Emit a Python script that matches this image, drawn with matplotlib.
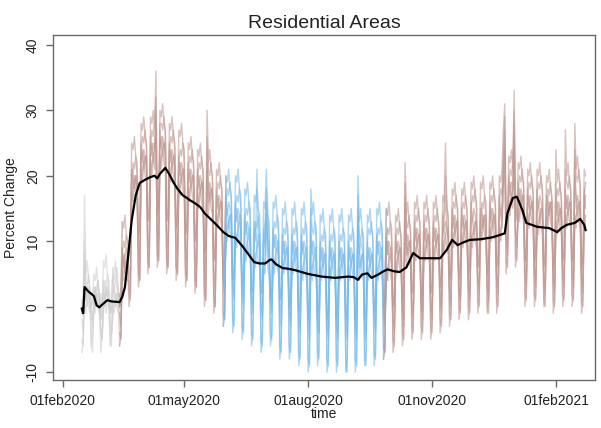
import matplotlib
matplotlib.use("Agg")
import matplotlib.pyplot as plt
import numpy as np
import pandas as pd

plt.rcParams['font.family'] = ['Liberation Sans', 'DejaVu Sans']

# ---------------- data ----------------
start_date = "2020-02-15"   # first Saturday with data
end_date = "2021-02-23"

# weekly values (week starts Saturday): weekend level (Sat/Sun) and weekday level (Mon-Fri)
s1_hi = [5,4,6,5,12, 24,27,28,29,27,26,24,23,22,20,
         19,19,17,16,15,15,14,14,14,14,13,13,13,13,13,13,14,14,
         13,14,15,15,15,16,17,17,18,18,18,19,22,21,20,20,19,19,20,21,20]
s1_lo = [-1,0,-2,-1,0, 8,11,13,14,13,12,11,10,8,7,
         5,4,3,2,2,1,1,0,-1,-2,-1,-2,-2,-2,-2,-2,-1,0,
         0,1,2,1,2,3,4,5,5,6,5,6,12,13,7,7,6,6,7,7,6]
s2_hi = [3,2,3,4,9, 21,25,26,27,25,23,22,21,20,18,
         17,16,14,12,12,12,11,11,11,11,10,10,10,10,10,11,11,11,
         11,12,13,13,13,14,15,15,16,15,16,17,20,19,18,18,17,17,18,19,18]
s2_lo = [-6,-7,-5,-6,-5, 1,4,6,7,6,5,4,3,1,0,
         -2,-3,-4,-5,-6,-5,-7,-7,-8,-9,-8,-9,-9,-10,-9,-9,-8,-7,
         -6,-5,-4,-4,-4,-3,-2,-1,-1,0,-1,0,6,7,1,1,0,0,1,1,0]
s3_hi = [2,1,2,3,7, 19,23,24,25,23,21,20,19,18,16,
         15,14,12,11,10,10,9,9,9,9,8,8,8,8,9,8,9,9,
         9,10,11,11,11,12,13,13,14,13,14,15,18,17,16,16,15,15,16,16,16]
s3_lo = [0,1,-1,0,1, 9,12,14,15,14,13,12,11,9,8,
         6,5,4,3,3,2,2,1,0,0,-1,-1,-1,-1,-1,-1,0,1,
         1,2,3,2,3,4,5,5,6,7,6,7,13,14,8,8,7,7,8,8,7]
s4_hi = [1,1,0,1,6, 19,22,23,24,22,20,19,18,17,15,
         13,13,11,10,9,9,8,8,8,8,7,7,7,7,7,7,8,8,
         8,9,10,10,10,11,12,12,12,13,13,13,17,16,15,14,15,14,15,15,15]
s4_lo = [-7,-6,-7,-6,-6, 0,3,5,6,5,4,3,2,0,-1,
         -3,-4,-5,-6,-7,-6,-8,-8,-9,-10,-9,-10,-10,-10,-10,-9,-9,-8,
         -7,-6,-5,-5,-5,-4,-3,-2,-2,-1,-1,-1,5,6,0,0,0,-1,0,0,-1]
s5_hi = [1,2,1,0,7, 18,21,22,23,21,19,18,17,16,14,
         12,11,9,8,7,7,7,7,6,6,6,6,6,6,6,6,6,6,
         7,8,9,9,9,10,11,11,11,12,12,12,16,15,14,13,14,13,14,14,14]
s5_lo = [-3,-2,-4,-3,-2, 5,8,10,11,10,9,8,7,5,4,
         4,3,2,1,0,1,0,-1,-2,-2,-3,-3,-3,-3,-3,-3,-2,-1,
         -2,-1,0,0,0,1,2,2,3,4,3,4,10,11,5,5,4,4,5,5,4]
s6_hi = [0,0,1,0,5, 17,20,21,22,20,18,17,16,15,13,
         11,10,8,7,6,6,6,6,5,5,5,5,5,5,5,5,5,5,
         6,7,8,8,8,9,10,10,10,11,11,11,15,14,13,12,13,12,13,13,13]
s6_lo = [-1,-2,0,-1,0, 2,4,6,7,6,5,4,3,1,0,
         2,1,0,-1,-2,-1,-3,-3,-4,-5,-4,-5,-5,-5,-5,-5,-4,-3,
         -4,-3,-2,-2,-2,-1,0,1,1,2,1,2,8,9,3,3,2,2,3,3,2]

series_hi = [s1_hi, s2_hi, s3_hi, s4_hi, s5_hi, s6_hi]
series_lo = [s1_lo, s2_lo, s3_lo, s4_lo, s5_lo, s6_lo]

# typical day-of-week deviation of each series (Mon..Sun)
dow_s1 = [1, 0, 2, -1, -2, 0, 1]
dow_s2 = [-1, 1, 0, 2, -1, 1, 0]
dow_s3 = [2, -1, 1, 0, -2, -1, 1]
dow_s4 = [0, 2, -1, 1, 1, 0, 2]
dow_s5 = [-2, 0, 1, 2, 0, 1, -1]
dow_s6 = [1, -1, 2, 0, -1, 2, 0]
series_dow = [dow_s1, dow_s2, dow_s3, dow_s4, dow_s5, dow_s6]

# holiday values per series (None = ordinary day)
holiday_dates = ["2020-02-17", "2020-04-10", "2020-04-13", "2020-05-18", "2020-06-24",
                 "2020-07-01", "2020-08-03", "2020-09-07", "2020-10-12", "2020-11-11",
                 "2020-12-24", "2020-12-25", "2021-01-01", "2021-02-01", "2021-02-08",
                 "2021-02-15"]
holiday_vals = [[17, 8, 10, None, 6, None],
                [36, 32, 30, 28, 27, 26],
                [30, 28, None, None, None, None],
                [30, 26, 24, 22, 21, 19],
                [None, None, 21, None, None, None],
                [21, 18, 16, 15, 14, 13],
                [18, 15, 13, None, None, 11],
                [20, 17, 15, 14, 12, 11],
                [22, 19, 17, 16, 15, 13],
                [25, 20, None, 17, None, None],
                [27, 24, 22, 21, 20, 19],
                [31, 29, 27, 25, 24, 23],
                [33, 30, 28, 26, 25, 24],
                [24, None, 19, None, None, None],
                [27, 21, None, None, None, None],
                [28, 24, 22, 20, None, None]]

# colour phases
phase_start = ["2020-02-15", "2020-03-14", "2020-05-30", "2020-09-26"]
phase_end = ["2020-03-16", "2020-06-01", "2020-09-29", "2021-02-23"]
phase_color = ["#cfcfcf", "#c09a93", "#78bbe9", "#c09a93"]

# average line
mean_dates = ["2020-02-15", "2020-02-16", "2020-02-17", "2020-02-20", "2020-02-23", "2020-02-24",
              "2020-02-26", "2020-02-28", "2020-03-01", "2020-03-05", "2020-03-08", "2020-03-14",
              "2020-03-16", "2020-03-18", "2020-03-20", "2020-03-23", "2020-03-26", "2020-03-29",
              "2020-04-02", "2020-04-06", "2020-04-09", "2020-04-11", "2020-04-13", "2020-04-17",
              "2020-04-20", "2020-04-23", "2020-04-26", "2020-04-30", "2020-05-03", "2020-05-05",
              "2020-05-09", "2020-05-13", "2020-05-16", "2020-05-20", "2020-05-25", "2020-05-30",
              "2020-06-03", "2020-06-08", "2020-06-13", "2020-06-17", "2020-06-22", "2020-06-26",
              "2020-06-30", "2020-07-04", "2020-07-05", "2020-07-08", "2020-07-13", "2020-07-17",
              "2020-07-22", "2020-07-27", "2020-08-01", "2020-08-06", "2020-08-11", "2020-08-16",
              "2020-08-21", "2020-08-26", "2020-08-31", "2020-09-04", "2020-09-07", "2020-09-10",
              "2020-09-14", "2020-09-17", "2020-09-22", "2020-09-25", "2020-09-29", "2020-10-04",
              "2020-10-08", "2020-10-13", "2020-10-18", "2020-10-23", "2020-10-30", "2020-11-07",
              "2020-11-12", "2020-11-16", "2020-11-20", "2020-11-24", "2020-11-29", "2020-12-07",
              "2020-12-16", "2020-12-25", "2020-12-27", "2020-12-31", "2021-01-03", "2021-01-07",
              "2021-01-10", "2021-01-18", "2021-01-27", "2021-02-02", "2021-02-05", "2021-02-09",
              "2021-02-15", "2021-02-19", "2021-02-22", "2021-02-23"]
mean_vals = [-0.3, -1.0, 3.0, 2.3, 1.8, 1.6,
             0.2, -0.1, 0.3, 1.0, 0.8, 0.7,
             1.5, 3.0, 7.0, 13.2, 17.0, 18.9,
             19.4, 19.8, 20.0, 19.6, 20.3, 21.2,
             20.2, 19.0, 18.0, 17.0, 16.6, 16.3,
             15.8, 15.2, 14.3, 13.5, 12.5, 11.4,
             10.8, 10.5, 9.3, 8.2, 6.8, 6.6,
             6.6, 7.2, 7.2, 6.5, 5.9, 5.8,
             5.6, 5.3, 5.0, 4.8, 4.6, 4.5,
             4.4, 4.5, 4.6, 4.5, 4.1, 4.9,
             5.1, 4.4, 4.9, 5.3, 5.7, 5.4,
             5.3, 6.0, 8.2, 7.4, 7.4, 7.4,
             8.7, 10.2, 9.4, 9.8, 10.2, 10.3,
             10.6, 11.2, 14.3, 16.6, 16.8, 14.8,
             12.8, 12.2, 12.0, 11.4, 12.0, 12.5,
             12.8, 13.4, 12.5, 11.7]

tick_dates = ["2020-02-01", "2020-05-01", "2020-08-01", "2020-11-01", "2021-02-01"]
tick_labels = ["01feb2020", "01may2020", "01aug2020", "01nov2020", "01feb2021"]
y_ticks = [-10, 0, 10, 20, 30, 40]

# ---------------- build daily series ----------------
days = pd.date_range(start_date, end_date, freq="D")
t0 = pd.Timestamp(start_date)
hol_idx = {pd.Timestamp(d): i for i, d in enumerate(holiday_dates)}

daily = []
for j in range(len(series_hi)):
    vals = []
    for d in days:
        k = (d - t0).days // 7
        base = series_lo[j][k] if d.dayofweek >= 5 else series_hi[j][k]
        v = base + series_dow[j][d.dayofweek]
        if d in hol_idx and holiday_vals[hol_idx[d]][j] is not None:
            v = holiday_vals[hol_idx[d]][j]
        vals.append(v)
    daily.append(pd.Series(vals, index=days))

# ---------------- plot ----------------
fig = plt.figure(figsize=(6.01, 4.28), dpi=100)
ax = fig.add_axes([53 / 601, 1 - 380 / 428, 542 / 601, 345 / 428])

for ps, pe, col in zip(phase_start, phase_end, phase_color):
    for s in daily:
        seg = s[ps:pe]
        ax.plot(seg.index, seg.values, color=col, lw=1.0, alpha=0.6, zorder=2)

ax.plot(pd.to_datetime(mean_dates), mean_vals, color="black", lw=1.6, zorder=5)

ax.set_xlim(pd.Timestamp("2020-01-24 14:00"), pd.Timestamp("2021-03-02"))
ax.set_ylim(-11.2, 41.5)
ax.set_xticks(pd.to_datetime(tick_dates))
ax.set_xticklabels(tick_labels, fontsize=10, color="#222222")
ax.set_yticks(y_ticks)
ax.set_yticklabels([str(v) for v in y_ticks], fontsize=10, rotation=90, va="center", color="#222222")

for sp in ax.spines.values():
    sp.set_color("#6a6a6a")
    sp.set_linewidth(1.0)
ax.tick_params(axis="both", direction="out", length=5, width=1.0, color="#6a6a6a")
ax.tick_params(axis="y", pad=4.5)
ax.tick_params(axis="x", pad=5)

ax.set_title("Residential Areas", fontsize=14, color="#222222", pad=5)
ax.set_ylabel("Percent Change", fontsize=10, color="#222222")
ax.yaxis.set_label_coords(-0.065, 0.5)
ax.set_xlabel("time", fontsize=10, color="#222222", labelpad=-1)

fig.savefig("out.png", dpi=100, facecolor="white")
